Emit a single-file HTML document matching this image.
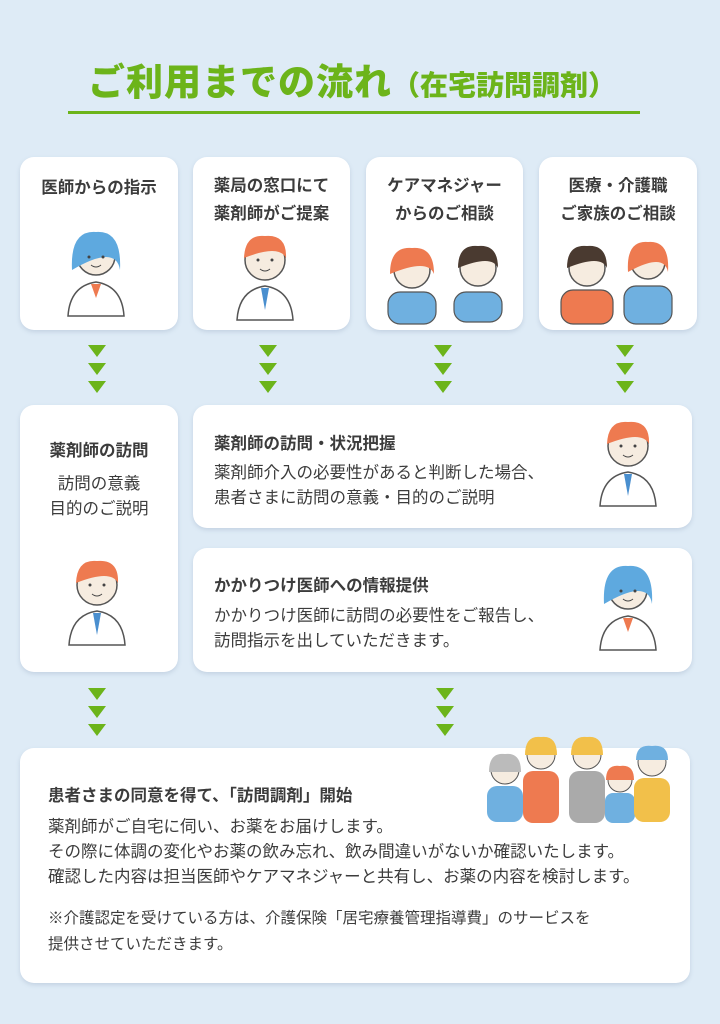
<!DOCTYPE html>
<html><head><meta charset="utf-8"><style>
body{margin:0;width:720px;height:1024px;background:#deebf6;font-family:"Liberation Sans","Noto Sans CJK JP",sans-serif;color:#3c3c3c;position:relative;overflow:hidden}
.a{position:absolute}
.card{position:absolute;background:#fff;border-radius:14px;box-shadow:0 2px 4px rgba(120,140,170,.25)}
.t{position:absolute;font-weight:bold;font-size:16.5px;white-space:nowrap}
.p{position:absolute;font-size:16.5px;line-height:25px;white-space:nowrap}
.ar{position:absolute;width:0;height:0;border-left:9px solid transparent;border-right:9px solid transparent;border-top:12px solid #6cb41a}
</style></head><body>
<div class="a" style="left:88px;top:52px;font-size:37px;font-weight:900;color:#6cb41a;white-space:nowrap;letter-spacing:1px">ご利用までの流れ<span style="font-size:28px;letter-spacing:0">（在宅訪問調剤）</span></div>
<div class="a" style="left:68px;top:111px;width:572px;height:3px;background:#6cb41a"></div>

<div class="card" style="left:20px;top:157px;width:158px;height:173px"></div>
<div class="card" style="left:193px;top:157px;width:157px;height:173px"></div>
<div class="card" style="left:366px;top:157px;width:157px;height:173px"></div>
<div class="card" style="left:539px;top:157px;width:158px;height:173px"></div>
<div class="t" style="left:20px;width:158px;text-align:center;top:174px">医師からの指示</div>
<div class="t" style="left:193px;width:157px;text-align:center;top:172px;line-height:28px">薬局の窓口にて<br>薬剤師がご提案</div>
<div class="t" style="left:366px;width:157px;text-align:center;top:172px;line-height:28px">ケアマネジャー<br>からのご相談</div>
<div class="t" style="left:539px;width:158px;text-align:center;top:172px;line-height:28px">医療・介護職<br>ご家族のご相談</div>

<svg class="a" style="left:0;top:0" width="720" height="1024">
<defs>
<g id="m"><circle cx="0" cy="0" r="20" fill="#f6ece0" stroke="#555" stroke-width="1.5"/><path d="M-21,-2 Q-20,-26 0,-24 Q22,-26 21,-2 Q14,-16 -21,-2Z" fill="#ee7a50"/><path d="M-28,60 Q-26,30 0,26 Q26,30 28,60Z" fill="#fff" stroke="#555" stroke-width="1.5"/><path d="M-4,28 L0,50 L4,28Z" fill="#4a8fcf"/><circle cx="-7" cy="0" r="1.5" fill="#444"/><circle cx="7" cy="0" r="1.5" fill="#444"/><path d="M-5,9 Q0,13 5,9" stroke="#444" fill="none"/></g>
<g id="f"><circle cx="0" cy="0" r="19" fill="#f6ece0" stroke="#555" stroke-width="1.5"/><path d="M-24,14 Q-26,-26 0,-24 Q26,-26 24,14 Q20,-12 -24,14Z" fill="#5ea9df"/><path d="M-28,60 Q-26,30 0,26 Q26,30 28,60Z" fill="#fff" stroke="#555" stroke-width="1.5"/><path d="M-5,28 L0,42 L5,28Z" fill="#ee7a50"/><circle cx="-7" cy="1" r="1.5" fill="#444"/><circle cx="7" cy="1" r="1.5" fill="#444"/><path d="M-5,9 Q0,13 5,9" stroke="#444" fill="none"/></g>
</defs>
<use href="#f" x="96" y="256"/>
<use href="#m" x="265" y="260"/>
<g transform="translate(412,270)"><circle r="18" fill="#f6ece0" stroke="#555" stroke-width="1.5"/><path d="M-22,4 Q-22,-24 0,-22 Q22,-24 22,4 Q16,-12 -22,4Z" fill="#ee7a50"/><rect x="-24" y="22" width="48" height="32" rx="12" fill="#6fb0e0" stroke="#555" stroke-width="1.2"/></g>
<g transform="translate(478,268)"><circle r="18" fill="#f6ece0" stroke="#555" stroke-width="1.5"/><path d="M-20,0 Q-20,-24 0,-22 Q20,-24 20,0 Q14,-14 -20,0Z" fill="#4a3a30"/><rect x="-24" y="24" width="48" height="30" rx="12" fill="#6fb0e0" stroke="#555" stroke-width="1.2"/></g>
<g transform="translate(587,268)"><circle r="18" fill="#f6ece0" stroke="#555" stroke-width="1.5"/><path d="M-20,0 Q-20,-24 0,-22 Q20,-24 20,0 Q14,-14 -20,0Z" fill="#4a3a30"/><rect x="-26" y="22" width="52" height="34" rx="12" fill="#ee7a50" stroke="#555" stroke-width="1.2"/></g>
<g transform="translate(648,262)"><circle r="17" fill="#f6ece0" stroke="#555" stroke-width="1.5"/><path d="M-20,10 Q-22,-22 0,-20 Q22,-22 20,10 Q16,-10 -20,10Z" fill="#ee7a50"/><rect x="-24" y="24" width="48" height="38" rx="12" fill="#6fb0e0" stroke="#555" stroke-width="1.2"/></g>
<use href="#m" x="97" y="585"/>
<use href="#m" x="628" y="446"/>
<use href="#f" x="628" y="590"/>
<g transform="translate(505,770)"><circle r="14" fill="#f6ece0" stroke="#555"/><path d="M-16,2 Q-16,-18 0,-16 Q16,-18 16,2Z" fill="#bbb"/><rect x="-18" y="16" width="36" height="36" rx="10" fill="#6fb0e0"/></g>
<g transform="translate(541,755)"><circle r="14" fill="#f6ece0" stroke="#555"/><path d="M-16,0 Q-16,-20 0,-18 Q16,-20 16,0Z" fill="#f2c04a"/><rect x="-18" y="16" width="36" height="52" rx="10" fill="#ee7a50"/></g>
<g transform="translate(587,755)"><circle r="14" fill="#f6ece0" stroke="#555"/><path d="M-16,0 Q-16,-20 0,-18 Q16,-20 16,0Z" fill="#f2c04a"/><rect x="-18" y="16" width="36" height="52" rx="10" fill="#aaa"/></g>
<g transform="translate(620,780)"><circle r="12" fill="#f6ece0" stroke="#555"/><path d="M-14,0 Q-14,-16 0,-14 Q14,-16 14,0Z" fill="#ee7a50"/><rect x="-15" y="13" width="30" height="30" rx="8" fill="#6fb0e0"/></g>
<g transform="translate(652,762)"><circle r="14" fill="#f6ece0" stroke="#555"/><path d="M-16,-2 Q-16,-18 0,-16 Q16,-18 16,-2Z" fill="#6fb0e0"/><rect x="-18" y="16" width="36" height="44" rx="10" fill="#f2c04a"/></g>
</svg>

<div class="ar" style="left:88px;top:345px"></div><div class="ar" style="left:88px;top:363px"></div><div class="ar" style="left:88px;top:381px"></div>
<div class="ar" style="left:259px;top:345px"></div><div class="ar" style="left:259px;top:363px"></div><div class="ar" style="left:259px;top:381px"></div>
<div class="ar" style="left:434px;top:345px"></div><div class="ar" style="left:434px;top:363px"></div><div class="ar" style="left:434px;top:381px"></div>
<div class="ar" style="left:616px;top:345px"></div><div class="ar" style="left:616px;top:363px"></div><div class="ar" style="left:616px;top:381px"></div>

<div class="card" style="left:20px;top:405px;width:158px;height:267px;z-index:-1"></div>
<div class="t" style="left:20px;width:158px;text-align:center;top:437px">薬剤師の訪問</div>
<div class="p" style="left:20px;width:158px;text-align:center;top:472px">訪問の意義<br>目的のご説明</div>

<div class="card" style="left:193px;top:405px;width:499px;height:123px;z-index:-1"></div>
<div class="t" style="left:214px;top:430px">薬剤師の訪問・状況把握</div>
<div class="p" style="left:214px;top:461px">薬剤師介入の必要性があると判断した場合、<br>患者さまに訪問の意義・目的のご説明</div>

<div class="card" style="left:193px;top:548px;width:499px;height:124px;z-index:-1"></div>
<div class="t" style="left:214px;top:572px">かかりつけ医師への情報提供</div>
<div class="p" style="left:214px;top:604px">かかりつけ医師に訪問の必要性をご報告し、<br>訪問指示を出していただきます。</div>

<div class="ar" style="left:88px;top:688px"></div><div class="ar" style="left:88px;top:706px"></div><div class="ar" style="left:88px;top:724px"></div>
<div class="ar" style="left:436px;top:688px"></div><div class="ar" style="left:436px;top:706px"></div><div class="ar" style="left:436px;top:724px"></div>

<div class="card" style="left:20px;top:748px;width:670px;height:235px;z-index:-1"></div>
<div class="t" style="left:48px;top:782px">患者さまの同意を得て、「訪問調剤」開始</div>
<div class="p" style="left:48px;top:815px">薬剤師がご自宅に伺い、お薬をお届けします。<br>その際に体調の変化やお薬の飲み忘れ、飲み間違いがないか確認いたします。<br>確認した内容は担当医師やケアマネジャーと共有し、お薬の内容を検討します。</div>
<div class="p" style="left:48px;top:906px;font-size:15.5px;line-height:26px">※介護認定を受けている方は、介護保険「居宅療養管理指導費」のサービスを<br>提供させていただきます。</div>
</body></html>
